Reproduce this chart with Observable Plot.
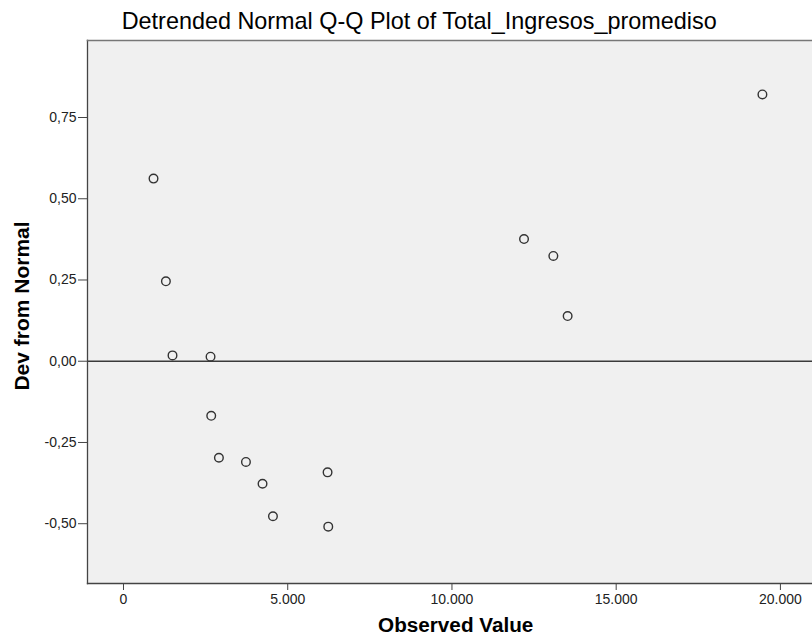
<!DOCTYPE html>
<html><head><meta charset="utf-8">
<script src="https://cdn.jsdelivr.net/npm/d3@7"></script>
<script src="https://cdn.jsdelivr.net/npm/@observablehq/plot@0.6"></script>
<style>
html,body{margin:0;padding:0;background:#fff;}
body{width:812px;height:641px;overflow:hidden;position:relative;font-family:"Liberation Sans",Arial,sans-serif;}
#title{position:absolute;top:10px;left:121.7px;font-size:23.4px;color:#000;line-height:1;white-space:nowrap;}
#chart{position:absolute;top:0;left:0;}
</style></head><body>
<div id="chart"></div>
<div id="title"></div>
<script>
const observed = [914, 1291, 1492, 2650, 2671, 2905, 3728, 4233, 4550, 6213, 6234, 12194, 13087, 13522, 19452];
const devFromNormal = [0.562, 0.246, 0.018, 0.014, -0.168, -0.297, -0.310, -0.377, -0.477, -0.342, -0.509, 0.376, 0.324, 0.139, 0.821];
const xTicks = [0, 5000, 10000, 15000, 20000];
const yTicks = [-0.5, -0.25, 0, 0.25, 0.5, 0.75];
const titleText = "Detrended Normal Q-Q Plot of Total_Ingresos_promediso";
const xLabel = "Observed Value";
const yLabel = "Dev from Normal";
const xDomain = [-1096, 20977];
const yDomain = [-0.684, 0.987];

const loc = d3.formatLocale({decimal: ",", thousands: ".", grouping: [3], currency: ["", "€"], minus: "-"});
const xFmt = loc.format(",d");
const yFmt = loc.format(".2f");

const data = observed.map((x, i) => ({x, y: devFromNormal[i]}));

document.getElementById("title").textContent = titleText;

const chart = Plot.plot({
  width: 812,
  height: 641,
  marginLeft: 87,
  marginRight: 0,
  marginTop: 40,
  marginBottom: 58,
  style: {fontFamily: '"Liberation Sans", Arial, sans-serif', fontSize: "14px", color: "#222", background: "#fff"},
  x: {domain: xDomain},
  y: {domain: yDomain},
  marks: [
    Plot.frame({fill: "#f0f0f0", stroke: null}),
    Plot.ruleY([0], {stroke: "#3a3a3a", strokeWidth: 1.6}),
    Plot.frame({anchor: "left", stroke: "#444", strokeWidth: 1.3}),
    Plot.frame({anchor: "top", stroke: "#777", strokeWidth: 1.6}),
    Plot.frame({anchor: "bottom", stroke: "#444", strokeWidth: 1.3}),
    Plot.axisX({ticks: xTicks, tickFormat: xFmt, tickSize: 7, tickPadding: 4, label: null, stroke: "#444", fontSize: 14}),
    Plot.axisY({ticks: yTicks, tickFormat: yFmt, tickSize: 9, tickPadding: 2, label: null, stroke: "#444", fontSize: 14}),
    Plot.dot(data, {x: "x", y: "y", r: 4.3, stroke: "#333", strokeWidth: 1.4, fill: "none"}),
    Plot.text([xLabel], {text: d => d, frameAnchor: "bottom", textAnchor: "middle", dx: 5.7, dy: 48.7, fontWeight: "bold", fontSize: 20.7, fill: "#000"}),
    Plot.text([yLabel], {text: d => d, frameAnchor: "left", textAnchor: "middle", rotate: -90, dx: -65.4, dy: -6, fontWeight: "bold", fontSize: 21, fill: "#000"})
  ]
});
document.getElementById("chart").appendChild(chart);
</script>
</body></html>
